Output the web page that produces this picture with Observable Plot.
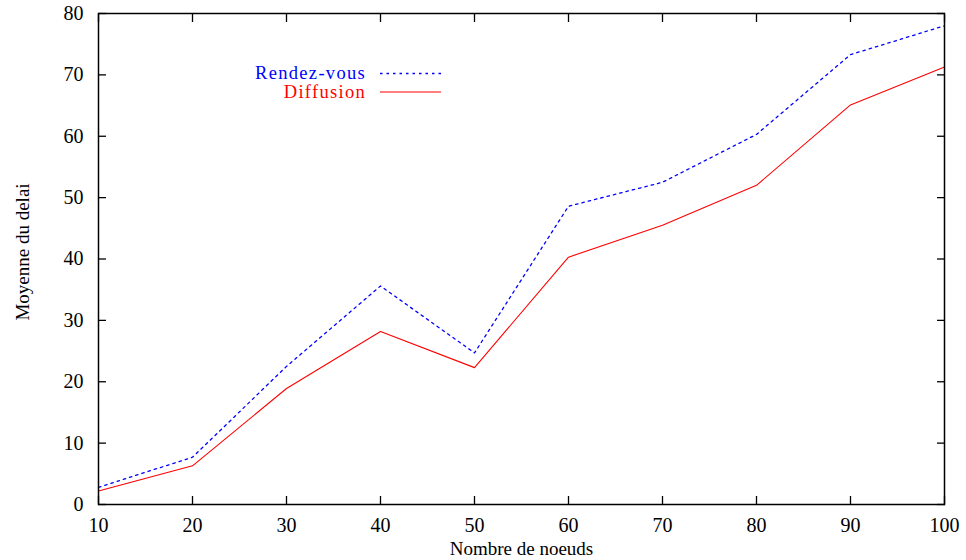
<!DOCTYPE html>
<html><head><meta charset="utf-8">
<script src="https://cdn.jsdelivr.net/npm/d3@7"></script>
<script src="https://cdn.jsdelivr.net/npm/@observablehq/plot@0.6"></script>
<style>
body{margin:0;background:#fff;}
#wrap{position:relative;width:966px;height:560px;font-family:"Liberation Serif",serif;}
#legend{position:absolute;left:0;top:0;pointer-events:none;}
</style>
</head><body><div id="wrap"></div>
<script>
const nodes = [10, 20, 30, 40, 50, 60, 70, 80, 90, 100];
const rendezVous = [2.8, 7.7, 22.5, 35.6, 24.7, 48.6, 52.5, 60.3, 73.3, 78.0];
const diffusion = [2.2, 6.3, 18.9, 28.2, 22.3, 40.3, 45.5, 52.0, 65.1, 71.3];
const xTicks = [10, 20, 30, 40, 50, 60, 70, 80, 90, 100];
const yTicks = [0, 10, 20, 30, 40, 50, 60, 70, 80];
const seriesNames = ["Rendez-vous", "Diffusion"];
const seriesColors = ["#0000ff", "#ff0000"];
const xLabel = "Nombre de noeuds";
const yLabel = "Moyenne du delai";

const rows = nodes.map((n, i) => ({n, rv: rendezVous[i], df: diffusion[i]}));

const chart = Plot.plot({
  width: 966, height: 560,
  marginLeft: 98, marginRight: 22, marginTop: 13, marginBottom: 56,
  style: {fontFamily: "'Liberation Serif', serif", fontSize: "20px", color: "#000", background: "#fff"},
  x: {domain: [10, 100]},
  y: {domain: [0, 80]},
  marks: [
    Plot.line(rows, {x: "n", y: "rv", stroke: seriesColors[0], strokeWidth: 1.3, strokeDasharray: "2.5,4"}),
    Plot.line(rows, {x: "n", y: "df", stroke: seriesColors[1], strokeWidth: 1.1}),
    Plot.axisX(xTicks, {anchor: "bottom", tickSize: -8, tickPadding: 21, label: null, tickFormat: d => String(d), strokeWidth: 1.3}),
    Plot.axisX(xTicks, {anchor: "top", tickSize: -8, label: null, tickFormat: () => "", strokeWidth: 1.3}),
    Plot.axisY(yTicks, {anchor: "left", tickSize: -8, tickPadding: 23, label: null, tickFormat: d => String(d), strokeWidth: 1.3}),
    Plot.axisY(yTicks, {anchor: "right", tickSize: -8, label: null, tickFormat: () => "", strokeWidth: 1.3}),
    Plot.frame({stroke: "#000", strokeWidth: 1.5}),
    Plot.text([xLabel], {text: d => d, frameAnchor: "bottom", lineAnchor: "middle", textAnchor: "middle", dy: 44, fontSize: 19, letterSpacing: "1px"}),
    Plot.text([yLabel], {text: d => d, frameAnchor: "left", lineAnchor: "middle", textAnchor: "middle", dx: -76, dy: -7, rotate: -90, fontSize: 19, letterSpacing: "0.6px"})
  ]
});
const wrap = document.getElementById("wrap");
wrap.appendChild(chart);

// legend overlay
const ns = "http://www.w3.org/2000/svg";
const lg = document.createElementNS(ns, "svg");
lg.setAttribute("id", "legend");
lg.setAttribute("width", 966);
lg.setAttribute("height", 560);
const legendRows = [73.5, 92];
seriesNames.forEach((name, i) => {
  const t = document.createElementNS(ns, "text");
  t.setAttribute("x", 366);
  t.setAttribute("y", legendRows[i]);
  t.setAttribute("dy", "0.32em");
  t.setAttribute("text-anchor", "end");
  t.setAttribute("fill", seriesColors[i]);
  t.setAttribute("font-family", "'Liberation Serif', serif");
  t.setAttribute("font-size", "18.5");
  t.setAttribute("letter-spacing", "1.3");
  t.textContent = name;
  lg.appendChild(t);
  const l = document.createElementNS(ns, "line");
  l.setAttribute("x1", 380);
  l.setAttribute("x2", 441);
  l.setAttribute("y1", legendRows[i]);
  l.setAttribute("y2", legendRows[i]);
  l.setAttribute("stroke", seriesColors[i]);
  l.setAttribute("stroke-width", i === 0 ? 1.3 : 1.1);
  if (i === 0) l.setAttribute("stroke-dasharray", "2.5,4");
  lg.appendChild(l);
});
wrap.appendChild(lg);
</script>
</body></html>
